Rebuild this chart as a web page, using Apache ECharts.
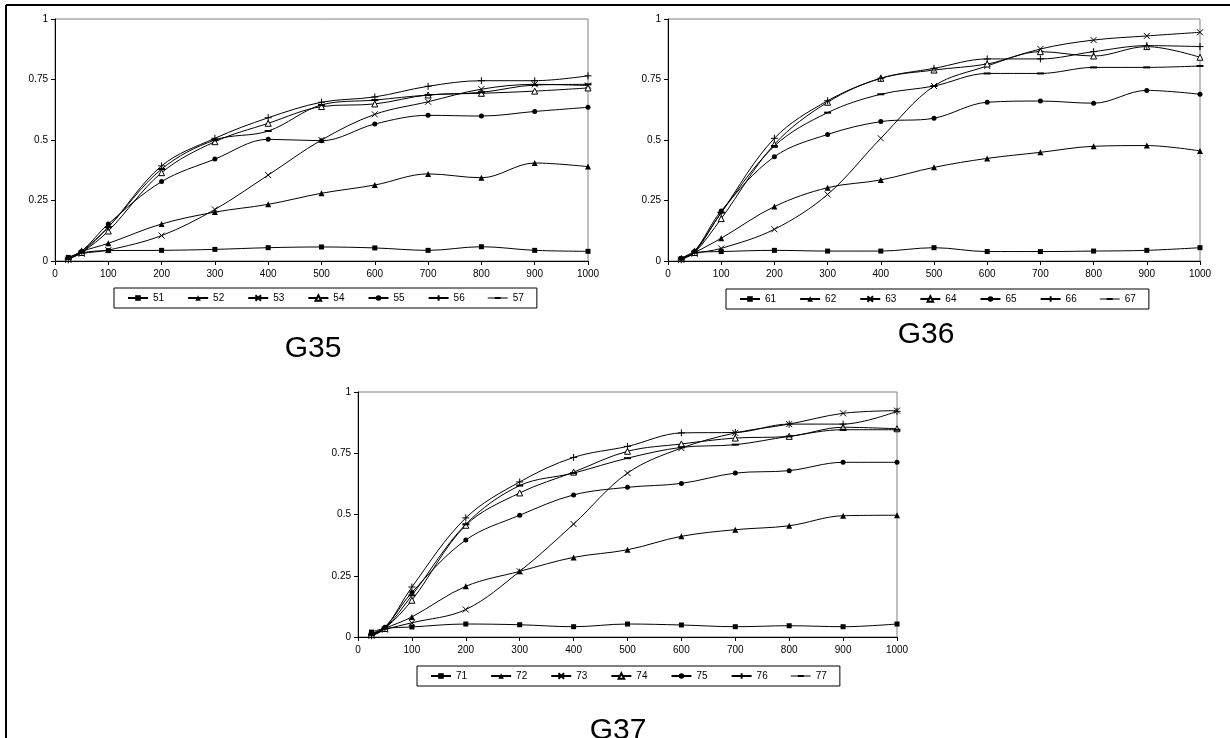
<!DOCTYPE html>
<html>
<head>
<meta charset="utf-8">
<script src="https://cdn.jsdelivr.net/npm/echarts@6/dist/echarts.min.js"></script>
<style>
  html, body { margin: 0; padding: 0; background: #fff; }
  #chart { width: 1230px; height: 738px; }
</style>
</head>
<body>
<div id="chart"></div>
<script>
// x positions shared by all three panels
const xs = [25, 50, 100, 200, 300, 400, 500, 600, 700, 800, 900, 1000]
const xTicks = [0, 100, 200, 300, 400, 500, 600, 700, 800, 900, 1000]
const yTicks = [0, 0.25, 0.5, 0.75, 1]

// G35
const names35 = ['51', '52', '53', '54', '55', '56', '57']
const s51 = [0.014, 0.034, 0.043, 0.044, 0.048, 0.055, 0.058, 0.054, 0.044, 0.059, 0.044, 0.04]
const s52 = [0.01, 0.039, 0.073, 0.153, 0.202, 0.234, 0.28, 0.314, 0.36, 0.344, 0.405, 0.39]
const s53 = [0.005, 0.03, 0.045, 0.105, 0.213, 0.355, 0.5, 0.606, 0.658, 0.71, 0.73, 0.725]
const s54 = [0.01, 0.035, 0.124, 0.365, 0.493, 0.569, 0.638, 0.649, 0.686, 0.693, 0.702, 0.715]
const s55 = [0.015, 0.04, 0.153, 0.328, 0.421, 0.503, 0.497, 0.566, 0.602, 0.599, 0.618, 0.635]
const s56 = [0.005, 0.04, 0.14, 0.393, 0.507, 0.592, 0.656, 0.678, 0.722, 0.745, 0.745, 0.765]
const s57 = [0.01, 0.035, 0.14, 0.38, 0.5, 0.537, 0.645, 0.665, 0.686, 0.697, 0.727, 0.73]

// G36
const names36 = ['61', '62', '63', '64', '65', '66', '67']
const s61 = [0.01, 0.035, 0.039, 0.044, 0.041, 0.041, 0.055, 0.039, 0.039, 0.041, 0.044, 0.055]
const s62 = [0.01, 0.035, 0.094, 0.225, 0.303, 0.335, 0.387, 0.424, 0.449, 0.474, 0.477, 0.455]
const s63 = [0.005, 0.03, 0.052, 0.131, 0.275, 0.507, 0.723, 0.806, 0.876, 0.913, 0.93, 0.945]
const s64 = [0.01, 0.035, 0.175, 0.482, 0.656, 0.755, 0.789, 0.814, 0.865, 0.847, 0.886, 0.842]
const s65 = [0.01, 0.04, 0.207, 0.431, 0.523, 0.576, 0.59, 0.656, 0.661, 0.652, 0.705, 0.689]
const s66 = [0.005, 0.04, 0.2, 0.507, 0.662, 0.755, 0.796, 0.835, 0.835, 0.865, 0.89, 0.886]
const s67 = [0.01, 0.035, 0.2, 0.475, 0.613, 0.689, 0.723, 0.775, 0.775, 0.8, 0.8, 0.806]

// G37
const names37 = ['71', '72', '73', '74', '75', '76', '77']
const s71 = [0.02, 0.035, 0.041, 0.053, 0.05, 0.042, 0.053, 0.049, 0.042, 0.046, 0.042, 0.053]
const s72 = [0.01, 0.035, 0.082, 0.207, 0.268, 0.325, 0.356, 0.411, 0.438, 0.454, 0.495, 0.497]
const s73 = [0.005, 0.03, 0.058, 0.112, 0.268, 0.461, 0.669, 0.771, 0.833, 0.869, 0.913, 0.924]
const s74 = [0.01, 0.035, 0.15, 0.456, 0.588, 0.673, 0.758, 0.788, 0.812, 0.819, 0.856, 0.85]
const s75 = [0.015, 0.04, 0.182, 0.396, 0.497, 0.58, 0.611, 0.627, 0.669, 0.679, 0.713, 0.713]
const s76 = [0.005, 0.035, 0.204, 0.486, 0.633, 0.733, 0.778, 0.833, 0.835, 0.869, 0.869, 0.921]
const s77 = [0.01, 0.035, 0.17, 0.46, 0.618, 0.669, 0.73, 0.774, 0.785, 0.819, 0.846, 0.846]

const FONT = 'Liberation Sans, Arial, sans-serif'

// marker styles in series order: square, filled triangle, x, open triangle, dot, plus, dash
const markers = [
  { symbol: 'rect', symbolSize: 5, itemStyle: { color: '#000', borderWidth: 0 } },
  { symbol: 'triangle', symbolSize: 6, itemStyle: { color: '#000', borderWidth: 0 } },
  { symbol: 'path://M0,0L10,10M10,0L0,10', symbolSize: 6, itemStyle: { color: '#000', borderColor: '#000', borderWidth: 1 } },
  { symbol: 'triangle', symbolSize: 6, itemStyle: { color: '#fff', borderColor: '#000', borderWidth: 1 } },
  { symbol: 'circle', symbolSize: 5, itemStyle: { color: '#000', borderWidth: 0 } },
  { symbol: 'path://M5,0L5,10M0,5L10,5', symbolSize: 7, itemStyle: { color: '#000', borderColor: '#000', borderWidth: 1 } },
  { symbol: 'rect', symbolSize: [7, 2], itemStyle: { color: '#000', borderWidth: 0 } }
]
const dashIcon = 'path://M0,0M20,7M0,3L20,3L20,4L0,4Z M7,2.5L13,2.5L13,4.5L7,4.5Z'

const panels = [
  { names: names35, values: [s51, s52, s53, s54, s55, s56, s57], grid: { left: 55, top: 19, width: 533, height: 242 }, legend: { left: 114, top: 288 } },
  { names: names36, values: [s61, s62, s63, s64, s65, s66, s67], grid: { left: 668, top: 19, width: 532, height: 242 }, legend: { left: 726, top: 289 } },
  { names: names37, values: [s71, s72, s73, s74, s75, s76, s77], grid: { left: 358, top: 392, width: 539, height: 245 }, legend: { left: 417, top: 666 } }
]

const grids = [], xAxes = [], yAxes = [], legends = [], series = []
panels.forEach((p, gi) => {
  grids.push(Object.assign({ show: true, borderColor: '#808080', borderWidth: 1, backgroundColor: '#fff' }, p.grid))
  xAxes.push({
    type: 'value', gridIndex: gi, min: xTicks[0], max: xTicks[xTicks.length - 1], interval: 100,
    axisLine: { lineStyle: { color: '#000', width: 1 } },
    axisTick: { length: 4, lineStyle: { color: '#000' } },
    axisLabel: { color: '#000', fontSize: 10, fontFamily: FONT, margin: 8, formatter: v => String(v) },
    splitLine: { show: false }
  })
  yAxes.push({
    type: 'value', gridIndex: gi, min: yTicks[0], max: yTicks[yTicks.length - 1], interval: 0.25,
    axisLine: { show: true, lineStyle: { color: '#000', width: 1 } },
    axisTick: { show: true, length: 4, lineStyle: { color: '#000' } },
    axisLabel: { color: '#000', fontSize: 10, fontFamily: FONT, margin: 7, formatter: v => String(v) },
    splitLine: { show: false }
  })
  legends.push({
    left: p.legend.left, top: p.legend.top,
    orient: 'horizontal',
    data: p.names.map((n, i) => i === 6 ? { name: n, icon: dashIcon } : n),
    itemWidth: 20, itemHeight: 7, itemGap: 23,
    padding: [5, 13],
    borderColor: '#000', borderWidth: 1,
    selectedMode: false,
    textStyle: { color: '#000', fontSize: 10, fontFamily: FONT }
  })
  p.names.forEach((n, i) => {
    series.push(Object.assign({
      name: n, type: 'line', xAxisIndex: gi, yAxisIndex: gi,
      data: xs.map((x, k) => [x, p.values[i][k]]),
      smooth: 0.35,
      showSymbol: true,
      animation: false,
      lineStyle: { color: '#000', width: 1 },
      color: '#000',
      z: 3 + i
    }, JSON.parse(JSON.stringify(markers[i]))))
  })
})

const chart = echarts.init(document.getElementById('chart'))
chart.setOption({
  backgroundColor: '#fff',
  animation: false,
  grid: grids,
  xAxis: xAxes,
  yAxis: yAxes,
  legend: legends,
  series: series,
  graphic: [
    { type: 'line', shape: { x1: 6, y1: 5, x2: 1230, y2: 5 }, style: { stroke: '#000', lineWidth: 2 } },
    { type: 'line', shape: { x1: 6, y1: 5, x2: 6, y2: 738 }, style: { stroke: '#000', lineWidth: 2 } },
    { type: 'text', x: 313, y: 349, style: { text: 'G35', font: '30px ' + FONT, fill: '#000', textAlign: 'center', textVerticalAlign: 'middle' } },
    { type: 'text', x: 926, y: 335, style: { text: 'G36', font: '30px ' + FONT, fill: '#000', textAlign: 'center', textVerticalAlign: 'middle' } },
    { type: 'text', x: 618, y: 731, style: { text: 'G37', font: '30px ' + FONT, fill: '#000', textAlign: 'center', textVerticalAlign: 'middle' } }
  ]
})
</script>
</body>
</html>
